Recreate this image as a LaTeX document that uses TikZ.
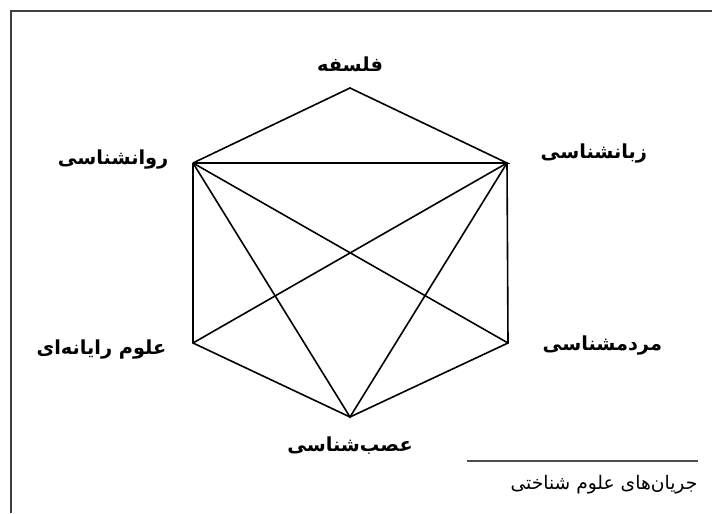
\documentclass[tikz,border=0pt]{standalone}
\usepackage{fontspec}
\newfontfamily\farsi[Script=Arabic]{DejaVu Sans}
\TeXXeTstate=1
\tikzset{
  edge/.style={line width=1.2pt},
  lbl/.style={font=\farsi\bfseries\fontsize{14.5}{16}\selectfont},
}
\begin{document}
\begin{tikzpicture}[x=0.75pt,y=-0.75pt]
\useasboundingbox (0,0) rectangle (712,513);
% frame
\draw[line width=1.5pt,black!75] (712,11) -- (11,11) -- (11,513);
% corners of the hexagon
\coordinate (falsafe) at (350,88);
\coordinate (ravan) at (193,163);
\coordinate (zaban) at (507,163);
\coordinate (rayane) at (193,343);
\coordinate (mardom) at (508,343);
\coordinate (asab) at (350,417);
\draw[edge] (ravan) -- (falsafe) -- (zaban) -- (ravan);
\draw[edge] (ravan) -- (rayane) -- (asab) -- (mardom) -- (zaban);
\draw[edge] (ravan) -- (asab) -- (zaban);
\draw[edge] (ravan) -- (mardom);
\draw[edge] (zaban) -- (rayane);
% labels
\node[lbl] (tfalsafe) at (350,64) {\beginR فلسفه\endR};
\node[lbl,anchor=east] (travan) at (173,160) {\beginR روانشناسی\endR};
\node[lbl,anchor=west] (tzaban) at (536,154) {\beginR زبانشناسی\endR};
\node[lbl,anchor=east] (trayane) at (171,350) {\beginR علوم رایانه^^^^200cای\endR};
\node[lbl,anchor=west] (tmardom) at (538,346) {\beginR مردمشناسی\endR};
\node[lbl] (tasab) at (350,446) {\beginR عصب^^^^200cشناسی\endR};
% source note
\coordinate (ruleL) at (467,461);
\coordinate (ruleR) at (698,461);
\draw[line width=0.9pt,black!70] (ruleL) -- (ruleR);
\node[font=\farsi\fontsize{14}{16}\selectfont,anchor=east] (note) at (702,485)
  {\beginR جریان^^^^200cهای علوم شناختی\endR};
\end{tikzpicture}
\end{document}
